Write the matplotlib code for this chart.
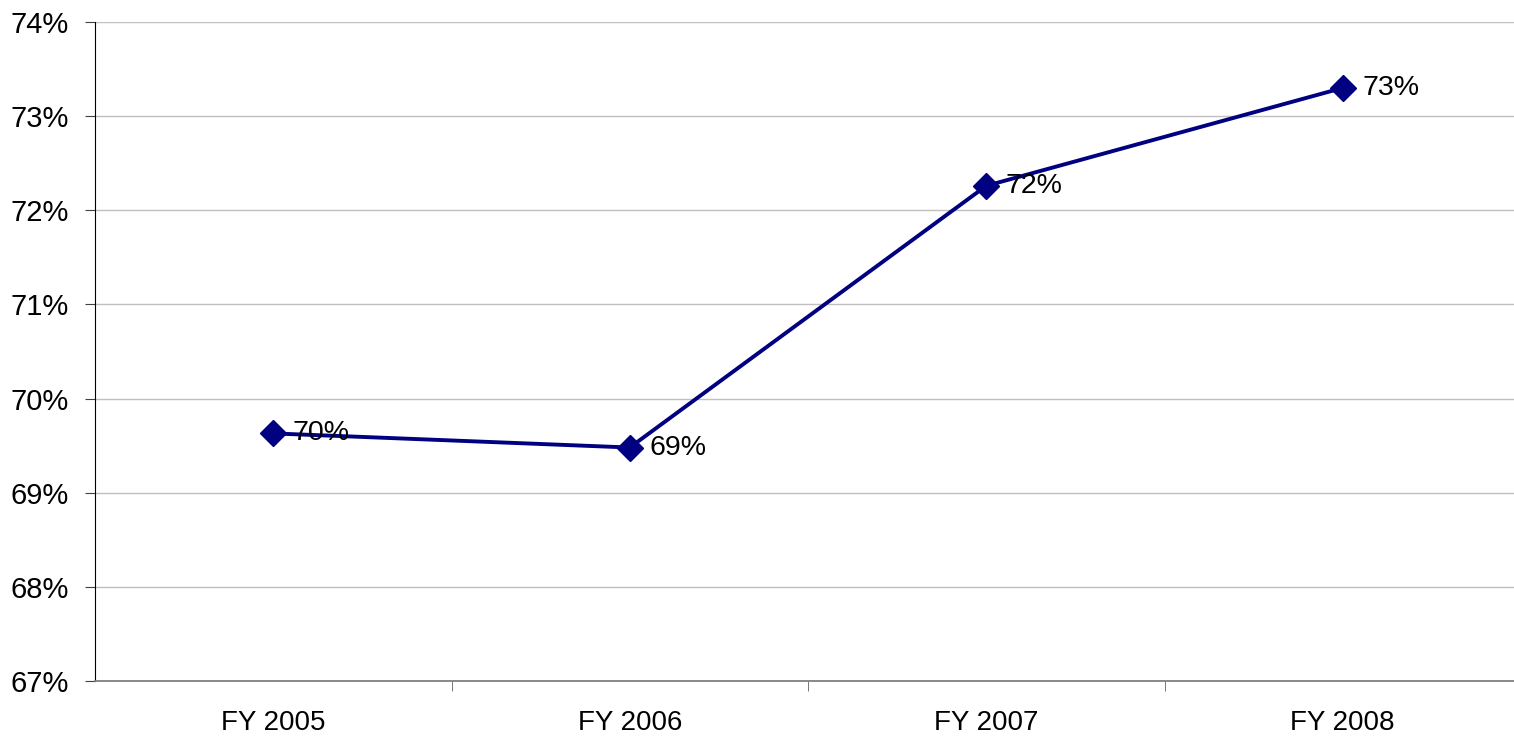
import matplotlib.pyplot as plt
from matplotlib.ticker import FixedLocator

# data
years = ['FY 2005', 'FY 2006', 'FY 2007', 'FY 2008']
share = [69.63, 69.48, 72.26, 73.30]
y_ticks = [67, 68, 69, 70, 71, 72, 73, 74]

plt.rcParams['font.family'] = ['Liberation Sans', 'DejaVu Sans']

fig = plt.figure(figsize=(15.14, 7.36), dpi=100)
ax = fig.add_axes([95 / 1514, 55 / 736, 1426 / 1514, 659 / 736])

x = list(range(len(years)))
ax.plot(x, share, color='#000080', linewidth=2.8, marker='D', markersize=13,
        markerfacecolor='#000080', markeredgecolor='#000080', zorder=3, clip_on=False)

for xi, v in zip(x, share):
    ax.annotate(f"{v:.0f}%", (xi, v), xytext=(14, 0), textcoords='offset points',
                ha='left', va='center', fontsize=20.5, color='black', zorder=4)

ax.set_xlim(-0.5, len(years) - 0.5)
ax.set_ylim(67, 74)
ax.set_yticks(y_ticks)
ax.set_yticklabels([f"{t}%" for t in y_ticks], fontsize=21)
ax.yaxis.grid(True, color='#c0c0c0', linewidth=1)
ax.set_axisbelow(True)

ax.set_xticks(x)
ax.set_xticklabels(years, fontsize=20)
ax.xaxis.set_minor_locator(FixedLocator([i + 0.5 for i in range(len(years) - 1)]))
ax.tick_params(axis='x', which='major', length=0, pad=21)
ax.tick_params(axis='x', which='minor', length=7, direction='out', color='#606060')
ax.tick_params(axis='y', length=7, direction='out', pad=12, color='#404040')

for s in ['top', 'right']:
    ax.spines[s].set_visible(False)
ax.spines['left'].set_color('black')
ax.spines['bottom'].set_color('#808080')
ax.spines['bottom'].set_linewidth(1.3)

fig.savefig('out.png', dpi=100)
